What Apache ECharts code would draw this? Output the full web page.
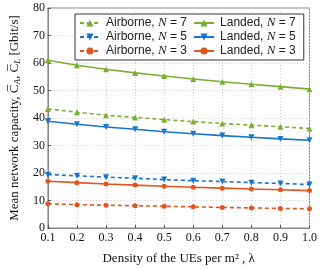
<!DOCTYPE html>
<html><head><meta charset="utf-8">
<script src="https://cdn.jsdelivr.net/npm/echarts@6/dist/echarts.min.js"></script>
<style>html,body{margin:0;padding:0;background:#fff}#c{width:320px;height:270px}</style>
</head><body><div id="c"></div>
<script>
var lambdas = ['0.1','0.2','0.3','0.4','0.5','0.6','0.7','0.8','0.9','1.0'];
var airborne7 = [43.3, 42.1, 41.0, 40.2, 39.4, 38.7, 38.0, 37.4, 36.8, 36.2];
var landed7   = [61.0, 59.2, 57.7, 56.4, 55.3, 54.2, 53.2, 52.3, 51.4, 50.5];
var airborne5 = [19.4, 19.0, 18.5, 18.1, 17.6, 17.2, 16.9, 16.5, 16.2, 15.8];
var landed5   = [38.8, 37.7, 36.7, 35.9, 35.0, 34.3, 33.6, 33.0, 32.4, 31.9];
var airborne3 = [8.8, 8.5, 8.3, 8.1, 7.9, 7.7, 7.5, 7.3, 7.1, 7.0];
var landed3   = [17.0, 16.5, 16.0, 15.6, 15.2, 14.8, 14.5, 14.2, 13.9, 13.6];
var yTicks = [0, 80, 10];

var GREEN = '#7ab030', BLUE = '#1874cd', ORANGE = '#e0561e';
function mk(name, data, color, dashed, symbol, size) {
  return {
    name: name, type: 'line', data: data, smooth: false,
    symbol: symbol, symbolSize: size,
    itemStyle: { color: color },
    lineStyle: { color: color, width: 1.6, type: dashed ? [4, 3] : 'solid' },
    emphasis: { disabled: true }, animation: false
  };
}
var chart = echarts.init(document.getElementById('c'));
var rich = {
  s: { fontFamily: 'Liberation Sans', fontSize: 12, color: '#222', lineHeight: 14 },
  n: { fontFamily: 'Liberation Serif', fontStyle: 'italic', fontSize: 13, color: '#222', lineHeight: 14 }
};
chart.setOption({
  animation: false,
  grid: { left: 36, right: 10, top: 8, bottom: 37, show: true, borderColor: '#888', borderWidth: 1 },
  legend: {
    left: 75, top: 14, width: 230, height: 47,
    orient: 'vertical',
    borderColor: '#333', borderWidth: 1, backgroundColor: '#fff',
    padding: [2, 2, 2, 4], itemGap: 0, itemWidth: 20, itemHeight: 9,
    data: ['Airborne7','Airborne5','Airborne3','Landed7','Landed5','Landed3'],
    formatter: function (n) {
      var t = n.indexOf('Air') === 0 ? 'Airborne' : 'Landed';
      return '{s|' + t + ', }{n|N}{s| = ' + n.slice(-1) + '}';
    },
    textStyle: { rich: rich, fontSize: 12, lineHeight: 14, padding: [0, 6, 0, 1] }
  },
  xAxis: {
    type: 'category', data: lambdas, boundaryGap: false,
    name: 'Density of the UEs per m\u00b2 , \u03bb', nameLocation: 'middle', nameGap: 24,
    nameTextStyle: { fontFamily: 'Liberation Serif', fontSize: 13, color: '#111' },
    axisLine: { lineStyle: { color: '#888' } },
    axisTick: { inside: true, length: 3, lineStyle: { color: '#555' } },
    axisLabel: { fontFamily: 'Liberation Serif', fontSize: 12, color: '#111', margin: 4 },
    splitLine: { show: true, lineStyle: { color: '#cfcfcf', type: [1, 2] } }
  },
  yAxis: {
    type: 'value', min: yTicks[0], max: yTicks[1], interval: yTicks[2],
    name: '{t|Mean network capacity, C\u0305}{b|A}{t|, C\u0305}{b|L}{t| [Gbit/s]}',
    nameLocation: 'middle', nameGap: 24,
    nameTextStyle: { fontFamily: 'Liberation Serif', fontSize: 13, color: '#111',
      rich: { t: { fontFamily: 'Liberation Serif', fontSize: 13, color: '#111' },
              b: { fontFamily: 'Liberation Serif', fontStyle: 'italic', fontSize: 9, color: '#111', verticalAlign: 'bottom', padding: [6,0,0,0] } } },
    axisLine: { show: true, lineStyle: { color: '#888' } },
    axisTick: { show: true, inside: true, length: 3, lineStyle: { color: '#555' } },
    axisLabel: { fontFamily: 'Liberation Serif', fontSize: 12, color: '#111', margin: 3 },
    splitLine: { show: true, lineStyle: { color: '#cfcfcf', type: [1, 2] } }
  },
  series: [
    mk('Airborne7', airborne7, GREEN, true, 'triangle', 6),
    mk('Airborne5', airborne5, BLUE, true, 'path://M0,0 L10,0 L5,9 Z', 6),
    mk('Airborne3', airborne3, ORANGE, true, 'circle', 5),
    mk('Landed7', landed7, GREEN, false, 'triangle', 6),
    mk('Landed5', landed5, BLUE, false, 'path://M0,0 L10,0 L5,9 Z', 6),
    mk('Landed3', landed3, ORANGE, false, 'circle', 5)
  ]
});
</script></body></html>
